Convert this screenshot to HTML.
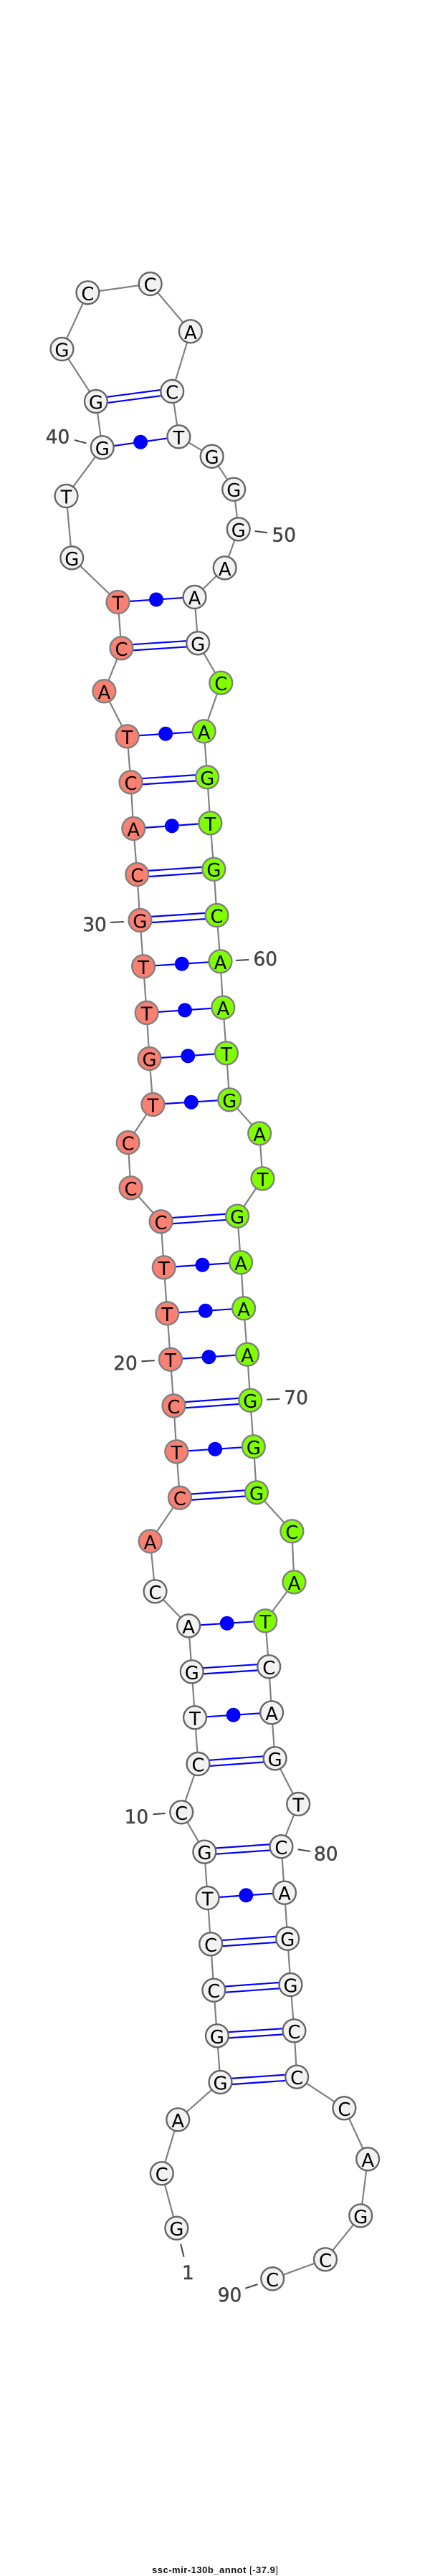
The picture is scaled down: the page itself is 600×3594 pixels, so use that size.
<!DOCTYPE html>
<html><head><meta charset="utf-8"><style>
html,body{margin:0;padding:0;background:#fff}
svg{display:block}
.ch{fill:none;stroke:#808080;stroke-width:2.2}
.w circle{fill:#f2f2f2;stroke:#666;stroke-width:2.4}
.r circle{fill:#fa8072;stroke:#808080;stroke-width:2.4}
.g circle{fill:#7fff00;stroke:#808080;stroke-width:2.4}
g text{font-family:"DejaVu Sans",sans-serif;font-size:26px;text-anchor:middle;fill:#000}
.n{font-family:"DejaVu Sans",sans-serif;font-size:26.5px;text-anchor:middle;fill:#444;stroke:#444;stroke-width:.5}
.t{stroke:#444;stroke-width:2;fill:none}
</style></head><body>
<svg width="600" height="3594" viewBox="0 0 600 3594" xmlns="http://www.w3.org/2000/svg">
<g transform="scale(.9945 1)">
<polyline class="ch" points="247.7,3108.7 227,3032.3 249.6,2957.3 309.2,2905 304.6,2840.3 300,2776.7 295.8,2712.3 291.2,2648 286.9,2583.7 254.6,2528.3 278,2461 273.5,2396.3 269.2,2332.3 264.6,2268.3 217.7,2220.3 210.8,2150.3 252.3,2089.7 247.7,2025.3 243.8,1961.3 239.2,1896.7 234.6,1832.3 230,1768.3 225.8,1704.3 183.5,1657.3 179.6,1594 214.6,1541 209.6,1477 205.8,1413 201.2,1348.3 196.5,1284 192.3,1220 187.3,1156 183.5,1091.3 178.5,1027.3 146.2,964.3 170.4,904.3 165.4,840 100.8,778.3 93,692 143.5,624.3 134.6,560 86.9,487 123.1,408.3 210.8,396 267.3,462.3 241.5,546 250.8,609.3 297.3,636.7 328,682.7 334.6,738.3 315.4,792.3 273,833 277.7,897.3 310,952.7 286.2,1020.3 290.8,1084.3 295,1148.3 300,1212.7 304.2,1277 309.2,1341.3 313,1405.7 317.7,1469.3 322,1534.3 364.2,1581.3 368.5,1644.3 333,1696.7 338,1761.3 342,1825.3 347,1889.7 351.2,1953.7 355.8,2018.3 360,2082.3 409.6,2136.3 412.7,2207.3 372.3,2261.3 377.3,2325.3 381.2,2389.3 385.8,2453.3 418.5,2517 394.6,2576.3 399.2,2640.7 403.5,2704.7 407.7,2769 412.7,2833.3 416.5,2897.7 483,2941.3 516,3012.3 506,3091.3 456.5,3152.3 382.3,3179.3"/>
<path fill="none" stroke="#0000ff" stroke-width="10.4" d="M309.2 2905L416.5 2897.7M304.6 2840.3L412.7 2833.3M300 2776.7L407.7 2769M295.8 2712.3L403.5 2704.7M286.9 2583.7L394.6 2576.3M278 2461L385.8 2453.3M269.2 2332.3L377.3 2325.3M252.3 2089.7L360 2082.3M243.8 1961.3L351.2 1953.7M225.8 1704.3L333 1696.7M196.5 1284L304.2 1277M192.3 1220L300 1212.7M183.5 1091.3L290.8 1084.3M170.4 904.3L277.7 897.3M134.6 560L241.5 546"/>
<path fill="none" stroke="#ffffff" stroke-width="6" d="M309.2 2905L416.5 2897.7M304.6 2840.3L412.7 2833.3M300 2776.7L407.7 2769M295.8 2712.3L403.5 2704.7M286.9 2583.7L394.6 2576.3M278 2461L385.8 2453.3M269.2 2332.3L377.3 2325.3M252.3 2089.7L360 2082.3M243.8 1961.3L351.2 1953.7M225.8 1704.3L333 1696.7M196.5 1284L304.2 1277M192.3 1220L300 1212.7M183.5 1091.3L290.8 1084.3M170.4 904.3L277.7 897.3M134.6 560L241.5 546"/>
<path fill="none" stroke="#0000ff" stroke-width="2.2" d="M291.2 2648L399.2 2640.7M273.5 2396.3L381.2 2389.3M264.6 2268.3L372.3 2261.3M247.7 2025.3L355.8 2018.3M239.2 1896.7L347 1889.7M234.6 1832.3L342 1825.3M230 1768.3L338 1761.3M214.6 1541L322 1534.3M209.6 1477L317.7 1469.3M205.8 1413L313 1405.7M201.2 1348.3L309.2 1341.3M187.3 1156L295 1148.3M178.5 1027.3L286.2 1020.3M165.4 840L273 833M143.5 624.3L250.8 609.3"/>
<g fill="#0000ff">
<circle cx="345.2" cy="2644.3" r="10"/><circle cx="327.4" cy="2392.8" r="10"/><circle cx="318.5" cy="2264.8" r="10"/><circle cx="301.8" cy="2021.8" r="10"/><circle cx="293.1" cy="1893.2" r="10"/><circle cx="288.3" cy="1828.8" r="10"/><circle cx="284" cy="1764.8" r="10"/><circle cx="268.3" cy="1537.7" r="10"/><circle cx="263.7" cy="1473.2" r="10"/><circle cx="259.4" cy="1409.4" r="10"/><circle cx="255.2" cy="1344.8" r="10"/><circle cx="241.2" cy="1152.2" r="10"/><circle cx="232.4" cy="1023.8" r="10"/><circle cx="219.2" cy="836.5" r="10"/><circle cx="197.2" cy="616.8" r="10"/>
</g>
<g class="w" transform="translate(247.7,3108.7)"><circle r="16"/><text y="10.5">G</text></g>
<g class="w" transform="translate(227,3032.3)"><circle r="16"/><text y="10.5">C</text></g>
<g class="w" transform="translate(249.6,2957.3)"><circle r="16"/><text y="10.5">A</text></g>
<g class="w" transform="translate(309.2,2905)"><circle r="16"/><text y="10.5">G</text></g>
<g class="w" transform="translate(304.6,2840.3)"><circle r="16"/><text y="10.5">G</text></g>
<g class="w" transform="translate(300,2776.7)"><circle r="16"/><text y="10.5">C</text></g>
<g class="w" transform="translate(295.8,2712.3)"><circle r="16"/><text y="10.5">C</text></g>
<g class="w" transform="translate(291.2,2648)"><circle r="16"/><text y="10.5">T</text></g>
<g class="w" transform="translate(286.9,2583.7)"><circle r="16"/><text y="10.5">G</text></g>
<g class="w" transform="translate(254.6,2528.3)"><circle r="16"/><text y="10.5">C</text></g>
<g class="w" transform="translate(278,2461)"><circle r="16"/><text y="10.5">C</text></g>
<g class="w" transform="translate(273.5,2396.3)"><circle r="16"/><text y="10.5">T</text></g>
<g class="w" transform="translate(269.2,2332.3)"><circle r="16"/><text y="10.5">G</text></g>
<g class="w" transform="translate(264.6,2268.3)"><circle r="16"/><text y="10.5">A</text></g>
<g class="w" transform="translate(217.7,2220.3)"><circle r="16"/><text y="10.5">C</text></g>
<g class="r" transform="translate(210.8,2150.3)"><circle r="16"/><text y="10.5">A</text></g>
<g class="r" transform="translate(252.3,2089.7)"><circle r="16"/><text y="10.5">C</text></g>
<g class="r" transform="translate(247.7,2025.3)"><circle r="16"/><text y="10.5">T</text></g>
<g class="r" transform="translate(243.8,1961.3)"><circle r="16"/><text y="10.5">C</text></g>
<g class="r" transform="translate(239.2,1896.7)"><circle r="16"/><text y="10.5">T</text></g>
<g class="r" transform="translate(234.6,1832.3)"><circle r="16"/><text y="10.5">T</text></g>
<g class="r" transform="translate(230,1768.3)"><circle r="16"/><text y="10.5">T</text></g>
<g class="r" transform="translate(225.8,1704.3)"><circle r="16"/><text y="10.5">C</text></g>
<g class="r" transform="translate(183.5,1657.3)"><circle r="16"/><text y="10.5">C</text></g>
<g class="r" transform="translate(179.6,1594)"><circle r="16"/><text y="10.5">C</text></g>
<g class="r" transform="translate(214.6,1541)"><circle r="16"/><text y="10.5">T</text></g>
<g class="r" transform="translate(209.6,1477)"><circle r="16"/><text y="10.5">G</text></g>
<g class="r" transform="translate(205.8,1413)"><circle r="16"/><text y="10.5">T</text></g>
<g class="r" transform="translate(201.2,1348.3)"><circle r="16"/><text y="10.5">T</text></g>
<g class="r" transform="translate(196.5,1284)"><circle r="16"/><text y="10.5">G</text></g>
<g class="r" transform="translate(192.3,1220)"><circle r="16"/><text y="10.5">C</text></g>
<g class="r" transform="translate(187.3,1156)"><circle r="16"/><text y="10.5">A</text></g>
<g class="r" transform="translate(183.5,1091.3)"><circle r="16"/><text y="10.5">C</text></g>
<g class="r" transform="translate(178.5,1027.3)"><circle r="16"/><text y="10.5">T</text></g>
<g class="r" transform="translate(146.2,964.3)"><circle r="16"/><text y="10.5">A</text></g>
<g class="r" transform="translate(170.4,904.3)"><circle r="16"/><text y="10.5">C</text></g>
<g class="r" transform="translate(165.4,840)"><circle r="16"/><text y="10.5">T</text></g>
<g class="w" transform="translate(100.8,778.3)"><circle r="16"/><text y="10.5">G</text></g>
<g class="w" transform="translate(93,692)"><circle r="16"/><text y="10.5">T</text></g>
<g class="w" transform="translate(143.5,624.3)"><circle r="16"/><text y="10.5">G</text></g>
<g class="w" transform="translate(134.6,560)"><circle r="16"/><text y="10.5">G</text></g>
<g class="w" transform="translate(86.9,487)"><circle r="16"/><text y="10.5">G</text></g>
<g class="w" transform="translate(123.1,408.3)"><circle r="16"/><text y="10.5">C</text></g>
<g class="w" transform="translate(210.8,396)"><circle r="16"/><text y="10.5">C</text></g>
<g class="w" transform="translate(267.3,462.3)"><circle r="16"/><text y="10.5">A</text></g>
<g class="w" transform="translate(241.5,546)"><circle r="16"/><text y="10.5">C</text></g>
<g class="w" transform="translate(250.8,609.3)"><circle r="16"/><text y="10.5">T</text></g>
<g class="w" transform="translate(297.3,636.7)"><circle r="16"/><text y="10.5">G</text></g>
<g class="w" transform="translate(328,682.7)"><circle r="16"/><text y="10.5">G</text></g>
<g class="w" transform="translate(334.6,738.3)"><circle r="16"/><text y="10.5">G</text></g>
<g class="w" transform="translate(315.4,792.3)"><circle r="16"/><text y="10.5">A</text></g>
<g class="w" transform="translate(273,833)"><circle r="16"/><text y="10.5">A</text></g>
<g class="w" transform="translate(277.7,897.3)"><circle r="16"/><text y="10.5">G</text></g>
<g class="g" transform="translate(310,952.7)"><circle r="16"/><text y="10.5">C</text></g>
<g class="g" transform="translate(286.2,1020.3)"><circle r="16"/><text y="10.5">A</text></g>
<g class="g" transform="translate(290.8,1084.3)"><circle r="16"/><text y="10.5">G</text></g>
<g class="g" transform="translate(295,1148.3)"><circle r="16"/><text y="10.5">T</text></g>
<g class="g" transform="translate(300,1212.7)"><circle r="16"/><text y="10.5">G</text></g>
<g class="g" transform="translate(304.2,1277)"><circle r="16"/><text y="10.5">C</text></g>
<g class="g" transform="translate(309.2,1341.3)"><circle r="16"/><text y="10.5">A</text></g>
<g class="g" transform="translate(313,1405.7)"><circle r="16"/><text y="10.5">A</text></g>
<g class="g" transform="translate(317.7,1469.3)"><circle r="16"/><text y="10.5">T</text></g>
<g class="g" transform="translate(322,1534.3)"><circle r="16"/><text y="10.5">G</text></g>
<g class="g" transform="translate(364.2,1581.3)"><circle r="16"/><text y="10.5">A</text></g>
<g class="g" transform="translate(368.5,1644.3)"><circle r="16"/><text y="10.5">T</text></g>
<g class="g" transform="translate(333,1696.7)"><circle r="16"/><text y="10.5">G</text></g>
<g class="g" transform="translate(338,1761.3)"><circle r="16"/><text y="10.5">A</text></g>
<g class="g" transform="translate(342,1825.3)"><circle r="16"/><text y="10.5">A</text></g>
<g class="g" transform="translate(347,1889.7)"><circle r="16"/><text y="10.5">A</text></g>
<g class="g" transform="translate(351.2,1953.7)"><circle r="16"/><text y="10.5">G</text></g>
<g class="g" transform="translate(355.8,2018.3)"><circle r="16"/><text y="10.5">G</text></g>
<g class="g" transform="translate(360,2082.3)"><circle r="16"/><text y="10.5">G</text></g>
<g class="g" transform="translate(409.6,2136.3)"><circle r="16"/><text y="10.5">C</text></g>
<g class="g" transform="translate(412.7,2207.3)"><circle r="16"/><text y="10.5">A</text></g>
<g class="g" transform="translate(372.3,2261.3)"><circle r="16"/><text y="10.5">T</text></g>
<g class="w" transform="translate(377.3,2325.3)"><circle r="16"/><text y="10.5">C</text></g>
<g class="w" transform="translate(381.2,2389.3)"><circle r="16"/><text y="10.5">A</text></g>
<g class="w" transform="translate(385.8,2453.3)"><circle r="16"/><text y="10.5">G</text></g>
<g class="w" transform="translate(418.5,2517)"><circle r="16"/><text y="10.5">T</text></g>
<g class="w" transform="translate(394.6,2576.3)"><circle r="16"/><text y="10.5">C</text></g>
<g class="w" transform="translate(399.2,2640.7)"><circle r="16"/><text y="10.5">A</text></g>
<g class="w" transform="translate(403.5,2704.7)"><circle r="16"/><text y="10.5">G</text></g>
<g class="w" transform="translate(407.7,2769)"><circle r="16"/><text y="10.5">G</text></g>
<g class="w" transform="translate(412.7,2833.3)"><circle r="16"/><text y="10.5">C</text></g>
<g class="w" transform="translate(416.5,2897.7)"><circle r="16"/><text y="10.5">C</text></g>
<g class="w" transform="translate(483,2941.3)"><circle r="16"/><text y="10.5">C</text></g>
<g class="w" transform="translate(516,3012.3)"><circle r="16"/><text y="10.5">A</text></g>
<g class="w" transform="translate(506,3091.3)"><circle r="16"/><text y="10.5">G</text></g>
<g class="w" transform="translate(456.5,3152.3)"><circle r="16"/><text y="10.5">C</text></g>
<g class="w" transform="translate(382.3,3179.3)"><circle r="16"/><text y="10.5">C</text></g>
<path class="t" d="M104.6 614L121 618.3M357.7 741L375 743.3M155 1287L173.8 1286M331 1340L349.2 1339M198.5 1899.3L217 1898.3M374.2 1952.7L392.7 1951.7M214.6 2531.3L232 2530M418 2580.3L435.4 2583M253.5 3130.7L258 3148.7M344.2 3192.7L361.5 3187"/>
<text class="n" x="81" y="618.5">40</text>
<text class="n" x="398.5" y="755.5">50</text>
<text class="n" x="132.7" y="1299">30</text>
<text class="n" x="372.3" y="1347">60</text>
<text class="n" x="176" y="1911">20</text>
<text class="n" x="415.4" y="1959">70</text>
<text class="n" x="191.5" y="2544">10</text>
<text class="n" x="457.3" y="2595.5">80</text>
<text class="n" x="263.8" y="3180">1</text>
<text class="n" x="322.3" y="3211">90</text>
</g>
<text x="212" y="3590" textLength="176" lengthAdjust="spacing" font-family="'Liberation Sans',sans-serif" font-size="13" font-weight="bold" fill="#111">ssc-mir-130b_annot <tspan font-weight="normal">[-</tspan>37.9<tspan font-weight="normal">]</tspan></text>
</svg>
</body></html>
